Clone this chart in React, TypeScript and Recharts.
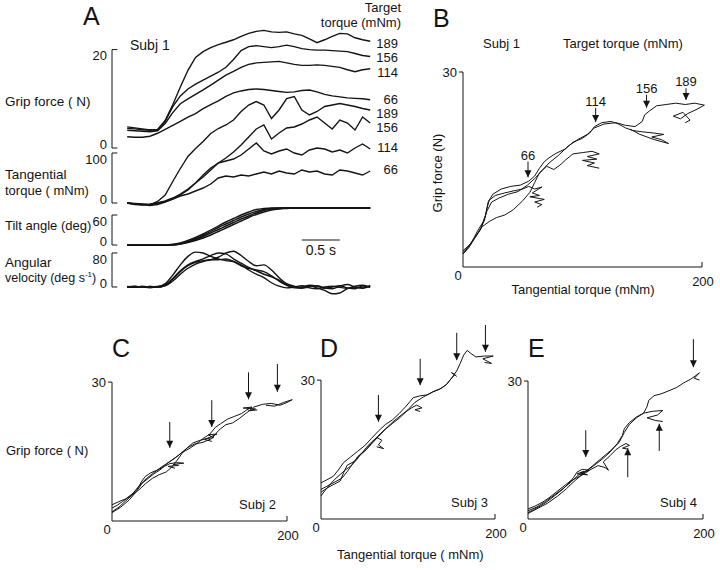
import React from 'react';
import { LineChart, Line, XAxis, YAxis, ReferenceLine, ReferenceDot } from 'recharts';

const W = 720;
const H = 570;
const FONT = '"Liberation Sans", Arial, Helvetica, sans-serif';
const INK = '#141414';

const TARGETS = [189, 156, 114, 66];

// ---- panel A: time courses, one sample every 0.1 s ----
const TIME = [0, 0.1, 0.2, 0.3, 0.4, 0.5, 0.6, 0.7, 0.8, 0.9, 1.0, 1.1, 1.2, 1.3, 1.4, 1.5, 1.6,
  1.7, 1.8, 1.9, 2.0, 2.1, 2.2, 2.3, 2.4, 2.5, 2.6, 2.7, 2.8, 2.9, 3.0, 3.1, 3.2];

// grip force (N)
const GRIP_189 = [4.0, 3.9, 3.7, 3.6, 3.8, 5.6, 8.8, 12.4, 15.8, 18.4, 19.6, 20.4, 21.0, 21.5, 22.0, 22.7, 23.3,
  23.7, 23.9, 23.6, 23.5, 23.6, 23.2, 22.9, 22.2, 21.4, 22.0, 22.7, 23.3, 23.2, 22.4, 22.0, 21.7];
const GRIP_156 = [4.3, 4.1, 3.9, 3.7, 3.6, 5.4, 8.4, 10.6, 12.0, 13.0, 13.8, 14.6, 15.4, 16.4, 18.0, 19.8, 20.6,
  20.8, 20.6, 20.4, 20.6, 20.9, 20.6, 20.2, 20.0, 19.9, 19.9, 19.8, 19.7, 19.6, 19.2, 18.8, 18.6];
const GRIP_114 = [3.6, 3.5, 3.4, 3.3, 3.5, 5.0, 7.2, 9.0, 10.0, 10.9, 11.8, 12.8, 13.8, 14.8, 15.6, 16.4, 17.0,
  17.3, 17.4, 17.5, 17.6, 17.3, 17.0, 16.8, 16.8, 16.9, 16.8, 16.6, 16.4, 15.9, 15.5, 15.9, 16.1];
const GRIP_66 = [2.3, 2.2, 2.2, 2.4, 3.0, 3.8, 4.6, 5.4, 6.3, 7.0, 8.0, 8.8, 9.6, 10.5, 11.2, 11.6, 11.9,
  12.0, 11.9, 11.7, 11.5, 11.3, 11.4, 11.7, 11.8, 11.4, 10.9, 10.6, 10.4, 10.2, 10.1, 10.0, 9.8];

// tangential torque (mNm)
const TORQUE_189 = [0, -1, -2, -4, 3, 16, 43, 69, 93, 109, 123, 139, 149, 156, 166, 183, 196,
  203, 196, 169, 186, 209, 213, 186, 176, 183, 193, 196, 199, 196, 193, 189, 186];
const TORQUE_156 = [0, -2, -3, -5, -3, 2, 8, 16, 26, 40, 56, 70, 80, 90, 102, 116, 132,
  148, 156, 128, 140, 150, 152, 158, 166, 172, 160, 148, 166, 160, 146, 172, 160];
const TORQUE_114 = [0, -3, -4, -3, 0, 4, 10, 18, 28, 40, 52, 66, 80, 84, 88, 96, 108,
  120, 104, 98, 104, 108, 100, 96, 106, 110, 108, 102, 106, 100, 110, 118, 108];
const TORQUE_66 = [0, -2, -3, -2, 0, 3, 8, 14, 18, 24, 30, 38, 50, 54, 52, 56, 54,
  58, 62, 58, 64, 60, 58, 66, 62, 64, 58, 56, 66, 64, 60, 56, 64];

// tilt angle (deg)
const TILT_1 = [0, 0, 0, 0, 0, 0, 1, 4, 9, 15, 22, 30, 38, 46, 53, 60, 66,
  71, 73, 74, 74, 74, 74, 74, 74, 74, 74, 74, 74, 74, 74, 74, 74];
const TILT_2 = [0, 0, 0, 0, 0, 0, 1, 3, 7, 13, 19, 27, 35, 42, 49, 56, 62,
  67, 71, 73, 74, 74, 74, 74, 74, 74, 74, 74, 74, 74, 74, 74, 74];
const TILT_3 = [0, 0, 0, 0, 0, 0, 0, 2, 6, 11, 17, 24, 31, 38, 45, 52, 58,
  64, 69, 72, 73, 74, 74, 74, 74, 74, 74, 74, 74, 74, 74, 74, 74];
const TILT_4 = [0, 0, 0, 0, 0, 0, 0, 2, 5, 9, 14, 20, 27, 34, 41, 48, 55,
  61, 66, 70, 72, 73, 74, 74, 74, 74, 74, 74, 74, 74, 74, 74, 74];

// angular velocity (deg/s)
const VEL_1 = [0, -1, 2, 0, 1, 8, 28, 52, 72, 82, 80, 72, 66, 62, 60, 52, 40,
  30, 22, 10, 2, -2, 0, 3, -2, -4, 0, 2, -1, -3, 2, 4, 0];
const VEL_2 = [1, 0, -1, 1, 0, 5, 20, 38, 52, 60, 66, 74, 80, 78, 66, 56, 46,
  38, 30, 24, 16, 6, 0, -3, 2, -2, -8, -16, -14, -4, 0, -2, 2];
const VEL_3 = [-1, 1, 0, -2, 1, 3, 14, 30, 44, 54, 60, 64, 70, 80, 84, 74, 60,
  50, 52, 40, 22, 8, 2, -2, 0, 3, -2, -4, 2, 6, 0, -3, 4];
const VEL_4 = [0, 2, -1, 1, -1, 4, 18, 36, 50, 58, 62, 64, 64, 66, 60, 50, 44,
  40, 36, 26, 14, 4, -2, 0, 4, 2, -3, 0, 3, -2, -4, 2, -1];

// ---- panels B-E: grip force (N) against tangential torque (mNm), one trial per target ----
const B_66 = [[0, 2], [5, 3.2], [9, 4.4], [14, 5.6], [18, 7.2], [20, 9], [22, 10.3], [27, 11], [35, 11.4], [42, 11.7],
  [50, 12], [55, 12.4], [60, 12], [66, 12.3], [58, 11.4], [64, 11], [56, 10.8], [68, 10.4], [60, 10], [66, 9.6], [62, 9.2]];
const B_114 = [[0, 2.5], [6, 3.5], [12, 5], [16, 6.2], [22, 7], [28, 7.6], [35, 8], [42, 8.8], [50, 10.2], [56, 11.5],
  [60, 13], [64, 14.5], [70, 15.5], [76, 15], [82, 15.8], [86, 16.5], [92, 17.4], [100, 17.6], [108, 17.8], [114, 17.4],
  [104, 17], [112, 16.6], [100, 16.4], [110, 16], [104, 15.6], [114, 15.2]];
const B_156 = [[0, 2], [5, 3], [10, 4.5], [15, 6], [19, 8], [21, 10], [25, 11.2], [32, 12], [40, 12.4], [48, 12.6],
  [55, 13.2], [60, 14], [64, 15.2], [68, 16.2], [72, 16.8], [78, 17.5], [86, 18.2], [92, 19.2], [100, 19.8], [106, 20.6],
  [110, 21.6], [116, 22.2], [124, 22.4], [130, 22], [136, 21.4], [142, 21], [150, 20.8], [160, 20.6], [168, 20.4],
  [158, 20], [166, 19.6], [172, 19], [160, 19.6], [148, 20.4], [140, 21.2]];
const B_189 = [[0, 2.2], [4, 3], [8, 4], [12, 5.5], [17, 7], [20, 8.6], [24, 10], [30, 10.6], [38, 11.2], [46, 11.6],
  [54, 12.6], [60, 13.6], [66, 14.8], [72, 16], [80, 17.2], [88, 18.6], [96, 19.6], [104, 20.4], [110, 21.4], [118, 22],
  [128, 22.2], [136, 21.8], [144, 21.6], [150, 22.4], [152, 23.4], [156, 24], [162, 24.8], [170, 25], [178, 25.2],
  [186, 25], [194, 25.2], [202, 24.9], [195, 24.2], [188, 23.6], [182, 22.8], [176, 23.2], [184, 23.8], [190, 22.6], [186, 22.2]];

const C_66 = [[0, 2.8], [6, 3.4], [12, 4.2], [18, 5], [24, 5.8], [30, 7.2], [34, 8.6], [38, 9.6], [44, 10.4], [52, 11],
  [60, 11.8], [66, 12.4], [74, 12.6], [82, 12.5], [70, 12.2], [76, 12], [64, 11.8], [72, 11.4]];
const C_114 = [[0, 2], [8, 3], [16, 4.4], [22, 5.4], [30, 6.6], [38, 8], [46, 9.2], [54, 10], [62, 10.6], [68, 11.6],
  [74, 13], [80, 14.6], [86, 15.8], [92, 16.8], [100, 17.4], [108, 17.8], [116, 18], [110, 18.6], [120, 18.8], [106, 17.6], [114, 17.2]];
const C_156 = [[0, 3.5], [8, 4.2], [16, 4.8], [24, 6], [32, 7.8], [40, 9], [48, 10.2], [56, 11.2], [64, 12.6], [72, 13.6],
  [80, 14.8], [88, 15.6], [96, 16.6], [104, 17.8], [112, 18.8], [118, 20.2], [124, 21], [132, 22], [140, 22.6], [148, 23.2],
  [154, 24], [160, 24.6], [150, 24.4], [164, 24.2], [156, 23.8], [166, 24]];
const C_189 = [[0, 1.8], [10, 3], [20, 4.6], [28, 6.4], [36, 8.6], [46, 10.2], [56, 11.6], [66, 12.8], [76, 14.2], [86, 15.8],
  [94, 16.6], [104, 17], [114, 17.8], [122, 19.6], [130, 20.8], [138, 21.2], [146, 22.2], [154, 23.4], [162, 24.6], [172, 25.2],
  [182, 25.4], [192, 25], [200, 25.6], [206, 26.2], [196, 25.6], [186, 24.8], [176, 25]];

const D_66 = [[0, 5], [4, 6], [10, 7.4], [16, 8.6], [22, 9.6], [28, 10.6], [34, 11.4], [40, 12.6], [46, 14], [52, 15.4],
  [58, 16.6], [64, 17.6], [70, 17], [66, 16], [72, 15.2], [64, 15.6]];
const D_114 = [[0, 6.4], [8, 7.2], [16, 8], [24, 8.8], [30, 10.2], [36, 11.8], [42, 13.4], [50, 14.6], [58, 16.2], [66, 17.8],
  [74, 19.4], [82, 20.6], [90, 21.8], [98, 23.2], [104, 24], [110, 24.6], [116, 24], [108, 23.6], [114, 23.2]];
const D_156 = [[0, 7.8], [6, 8.4], [14, 9.2], [20, 10.6], [26, 12.2], [34, 13.4], [42, 14.6], [50, 15.8], [58, 17.4], [66, 19],
  [74, 20.4], [82, 21.4], [90, 22.8], [98, 24.4], [106, 26.2], [114, 26.6], [122, 26.8], [130, 27.6], [138, 28.2], [144, 29],
  [150, 30.4], [154, 31.2], [150, 31.6], [156, 30.8]];
const D_189 = [[0, 5.8], [8, 6.8], [16, 7.6], [22, 8.2], [26, 10], [30, 11.6], [38, 12.4], [44, 13.8], [52, 15], [60, 16.8],
  [68, 18.4], [76, 19.8], [84, 21.2], [92, 22.4], [100, 23.6], [108, 25.2], [118, 26.4], [128, 27.4], [136, 28], [144, 29],
  [150, 30.4], [156, 32], [160, 33.6], [164, 35.4], [168, 36.4], [172, 35.8], [178, 35], [188, 35.2], [198, 35.2],
  [186, 34.6], [192, 34], [196, 33.6], [188, 33.8]];

const E_66 = [[0, 1.4], [6, 2], [14, 2.8], [22, 3.8], [30, 5], [38, 6.2], [46, 7.6], [52, 9], [56, 10.2], [62, 10.8],
  [70, 10.6], [60, 10], [68, 9.6], [56, 9.8], [64, 10.4]];
const E_114 = [[0, 2.2], [8, 2.8], [16, 3.6], [24, 4.6], [32, 5.8], [40, 7], [48, 8.2], [56, 9], [64, 9.8], [72, 10.8],
  [80, 11.6], [88, 11.2], [92, 10.6], [86, 12.4], [94, 13.8], [100, 15], [106, 15.8], [112, 16.4], [116, 16], [108, 15.4], [114, 15.2]];
const E_156 = [[0, 1.8], [10, 2.6], [20, 3.8], [30, 5.2], [40, 6.6], [50, 8.2], [58, 9.6], [68, 10.6], [78, 12], [86, 13.2],
  [94, 14.6], [102, 16.4], [108, 18.2], [110, 19.6], [116, 21], [124, 22.2], [132, 23], [142, 23.4], [154, 23.6],
  [148, 22.6], [136, 22], [146, 21.4], [154, 21.2]];
const E_189 = [[0, 1.2], [10, 2.2], [22, 3.4], [34, 5], [44, 6.6], [54, 8.4], [64, 10], [74, 11.6], [84, 13.2], [94, 14.8],
  [104, 16.6], [110, 18.8], [116, 20.6], [124, 22], [132, 23], [136, 24.4], [138, 25.8], [144, 26.8], [152, 27.2], [160, 27.8],
  [170, 28.6], [178, 29.6], [186, 30.4], [192, 31.2], [196, 31.8], [190, 30.6], [196, 30.2]];

// arrows: torque position, tail and tip force
const B_ARROWS = [
  { x: 54.4, from: 16.2, to: 13.8, label: '66' },
  { x: 111, from: 24.5, to: 22.3, label: '114' },
  { x: 153.6, from: 26.5, to: 24.5, label: '156' },
  { x: 186.6, from: 27.5, to: 25.7, label: '189' },
];
const C_ARROWS = [
  { x: TARGETS[3], from: 21.4, to: 15.8 },
  { x: TARGETS[2], from: 26.1, to: 20.3 },
  { x: TARGETS[1], from: 32.1, to: 26.3 },
  { x: TARGETS[0], from: 33.9, to: 27.9 },
];
const D_ARROWS = [
  { x: TARGETS[3], from: 26.8, to: 21 },
  { x: TARGETS[2], from: 34.6, to: 28.9 },
  { x: TARGETS[1], from: 40.2, to: 34.3 },
  { x: TARGETS[0], from: 41.9, to: 36.1 },
];
const E_ARROWS = [
  { x: TARGETS[3], from: 19.3, to: 13.5 },
  { x: TARGETS[2], from: 9.1, to: 15.4 },
  { x: 150, from: 14.8, to: 20.7 },
  { x: TARGETS[0], from: 39.1, to: 33 },
];

const rows = (vals: number[]) => vals.map((v, i) => ({ t: TIME[i], v }));
const pts = (pairs: number[][]) => pairs.map(([x, y]) => ({ x, y }));

const LAYER: React.CSSProperties = { position: 'absolute', left: 0, top: 0, width: W, height: H, fontFamily: FONT };

// panel A frame
const A_LEFT = 112;
const A_RIGHT = 374;
const A_YW = 40;
const A_TIME: [number, number] = [-0.2, 3.25];
const BRACKET_END = -0.13;

// zero sits on its tick's bottom, the top value hangs under its tick
function ATick(props: any) {
  const { x, y, payload } = props;
  const shift = payload.value === 0 ? -4 : 6;
  return (
    <text x={x} y={y + shift} dy="0.355em" textAnchor="end" fontSize={13} fill={INK}>
      {payload.value}
    </text>
  );
}

type TraceProps = {
  series: number[][];
  domain: [number, number];
  top: number;
  bottom: number;
  max: number;
  curve: 'linear' | 'monotone';
  children?: React.ReactNode;
};

function TracePlot({ series, domain, top, bottom, max, curve, children }: TraceProps) {
  const seg = { stroke: INK, strokeWidth: 1, ifOverflow: 'visible' as const };
  return (
    <div style={LAYER}>
      <LineChart width={W} height={H} margin={{ top, bottom: H - bottom, left: A_LEFT - A_YW, right: W - A_RIGHT }}>
        <XAxis type="number" dataKey="t" domain={A_TIME} hide />
        <YAxis type="number" domain={domain} ticks={[0, max]} interval={0} width={A_YW}
          axisLine={false} tickLine={false} tickSize={0} tickMargin={5}
          tick={(p: any) => <ATick {...p} />} />
        <ReferenceLine segment={[{ x: A_TIME[0], y: 0 }, { x: A_TIME[0], y: max }]} {...seg} />
        <ReferenceLine segment={[{ x: A_TIME[0], y: 0 }, { x: BRACKET_END, y: 0 }]} {...seg} />
        <ReferenceLine segment={[{ x: A_TIME[0], y: max }, { x: BRACKET_END, y: max }]} {...seg} />
        {series.map((s, i) => (
          <Line key={i} data={rows(s)} dataKey="v" type={curve} stroke={INK} strokeWidth={1.4}
            dot={false} activeDot={false} isAnimationActive={false} />
        ))}
        {children}
      </LineChart>
    </div>
  );
}

// panels B-E frame
const X_MAX = 215;
const XH = 24;
const YW = 30;

function XTick(props: any) {
  const { x, y, payload } = props;
  const v = payload.value;
  return (
    <text x={v === 0 ? x - 5 : x + 1} y={v === 0 ? y : y + 6} dy="0.71em" textAnchor="middle" fontSize={13} fill={INK}>
      {v}
    </text>
  );
}

function headShape(up: boolean) {
  return (p: any) => {
    const { cx, cy } = p;
    const k = up ? 1 : -1;
    return <path d={`M${cx},${cy} L${cx - 3.5},${cy + 7 * k} L${cx + 3.5},${cy + 7 * k} Z`} fill={INK} />;
  };
}

type Arrow = { x: number; from: number; to: number; label?: string };
type LoopProps = { trials: number[][][]; x0: number; y0: number; sx: number; sy: number; yTop: number; arrows: Arrow[] };

function LoopPlot({ trials, x0, y0, sx, sy, yTop, arrows }: LoopProps) {
  const right = x0 + X_MAX * sx;
  const top = y0 - yTop * sy;
  const seg = { stroke: INK, strokeWidth: 1, ifOverflow: 'visible' as const };
  return (
    <div style={LAYER}>
      <LineChart width={W} height={H} margin={{ top, bottom: H - y0 - XH, left: x0 - YW, right: W - right }}>
        <XAxis type="number" dataKey="x" domain={[0, X_MAX]} ticks={[0, 200]} interval={0} height={XH}
          axisLine={false} tickLine={false} tickSize={0} tickMargin={4} tick={(p: any) => <XTick {...p} />} />
        <YAxis type="number" domain={[0, yTop]} ticks={[30]} interval={0} width={YW}
          axisLine={false} tickLine={{ stroke: INK }} tickSize={4} tickMargin={2}
          tick={{ fontSize: 13, fill: INK }} />
        <ReferenceLine segment={[{ x: 0, y: 0 }, { x: 0, y: 30 }]} {...seg} />
        <ReferenceLine segment={[{ x: 0, y: 0 }, { x: 200, y: 0 }]} {...seg} />
        <ReferenceLine segment={[{ x: 200, y: 0 }, { x: 200, y: 5 / sy }]} {...seg} />
        {trials.map((tr, i) => (
          <Line key={`t${i}`} data={pts(tr)} dataKey="y" type="linear" stroke={INK} strokeWidth={1}
            dot={false} activeDot={false} isAnimationActive={false} />
        ))}
        {arrows.map((a, i) => (
          <ReferenceLine key={`s${i}`} segment={[{ x: a.x, y: a.from }, { x: a.x, y: a.to }]} {...seg}
            label={a.label ? { value: a.label, position: a.from > a.to ? 'top' : 'bottom', offset: 2, fontSize: 13, fill: INK } : undefined} />
        ))}
        {arrows.map((a, i) => (
          <ReferenceDot key={`h${i}`} x={a.x} y={a.to} r={4} ifOverflow="visible" shape={headShape(a.to > a.from)} />
        ))}
      </LineChart>
    </div>
  );
}

const GRIP_LABEL_Y = [48, 62, 77, 104];
const TORQUE_LABEL_Y = [117.5, 131.5, 152, 174];

function Texts() {
  return (
    <svg width={W} height={H} style={{ ...LAYER, pointerEvents: 'none' }}>
      <g fill={INK} fontFamily={FONT}>
        <text x={83} y={25} fontSize={25}>A</text>
        <text x={130} y={50} fontSize={14}>Subj 1</text>
        <text x={401} y={12} fontSize={13} textAnchor="end">Target</text>
        <text x={401} y={27} fontSize={13} textAnchor="end">torque (mNm)</text>
        {TARGETS.map((v, i) => (
          <text key={`g${v}`} x={398} y={GRIP_LABEL_Y[i]} fontSize={13} textAnchor="end">{v}</text>
        ))}
        {TARGETS.map((v, i) => (
          <text key={`q${v}`} x={398} y={TORQUE_LABEL_Y[i]} fontSize={13} textAnchor="end">{v}</text>
        ))}
        <text x={5} y={106} fontSize={13.5}>Grip force ( N)</text>
        <text x={5} y={179} fontSize={13.5}>Tangential</text>
        <text x={5} y={195} fontSize={13}>torque ( mNm)</text>
        <text x={5} y={230} fontSize={13}>Tilt angle (deg)</text>
        <text x={5} y={267} fontSize={13.5}>Angular</text>
        <text x={5} y={282} fontSize={12.5}>
          velocity (deg s<tspan dy={-5} fontSize={8}>-1</tspan><tspan dy={5}>)</tspan>
        </text>

        <text x={433} y={27} fontSize={25}>B</text>
        <text x={483} y={48} fontSize={13}>Subj 1</text>
        <text x={563} y={48} fontSize={13}>Target torque (mNm)</text>
        <text x={442} y={173} fontSize={13} textAnchor="middle" transform="rotate(-90 442 173)">Grip force (N)</text>
        <text x={583} y={294} fontSize={13} textAnchor="middle">Tangential torque (mNm)</text>

        <text x={112} y={357} fontSize={25}>C</text>
        <text x={6} y={455} fontSize={13}>Grip force ( N)</text>
        <text x={239} y={509} fontSize={13}>Subj 2</text>

        <text x={320} y={357} fontSize={25}>D</text>
        <text x={451} y={507} fontSize={13}>Subj 3</text>
        <text x={337} y={559} fontSize={13}>Tangential torque ( mNm)</text>

        <text x={528} y={357} fontSize={25}>E</text>
        <text x={660} y={507} fontSize={13}>Subj 4</text>
      </g>
    </svg>
  );
}

export default function App() {
  return (
    <div style={{ position: 'absolute', left: 0, top: 0, width: W, height: H, background: '#fff', overflow: 'hidden' }}>
      <TracePlot series={[GRIP_189, GRIP_156, GRIP_114, GRIP_66]} domain={[-0.4, 25]} top={25} bottom={150} max={20} curve="linear" />
      <TracePlot series={[TORQUE_189, TORQUE_156, TORQUE_114, TORQUE_66]} domain={[-10, 226]} top={90} bottom={208} max={100} curve="linear" />
      <TracePlot series={[TILT_1, TILT_2, TILT_3, TILT_4]} domain={[-6, 80]} top={205} bottom={248} max={60} curve="monotone">
        <ReferenceLine segment={[{ x: 2.3, y: 10 }, { x: 2.8, y: 10 }]} stroke={INK} strokeWidth={1} ifOverflow="visible"
          label={{ value: '0.5 s', position: 'bottom', offset: 5, fontSize: 14, fill: INK }} />
      </TracePlot>
      <TracePlot series={[VEL_1, VEL_2, VEL_3, VEL_4]} domain={[-30.6, 98.8]} top={245} bottom={300} max={80} curve="monotone" />

      <LoopPlot trials={[B_66, B_114, B_156, B_189]} x0={463} y0={267} sx={1.195} sy={6.5} yTop={33} arrows={B_ARROWS} />
      <LoopPlot trials={[C_66, C_114, C_156, C_189]} x0={112} y0={521} sx={0.875} sy={4.63} yTop={36} arrows={C_ARROWS} />
      <LoopPlot trials={[D_66, D_114, D_156, D_189]} x0={321} y0={519} sx={0.87} sy={4.63} yTop={43} arrows={D_ARROWS} />
      <LoopPlot trials={[E_66, E_114, E_156, E_189]} x0={528} y0={519} sx={0.875} sy={4.6} yTop={41} arrows={E_ARROWS} />

      <Texts />
    </div>
  );
}
